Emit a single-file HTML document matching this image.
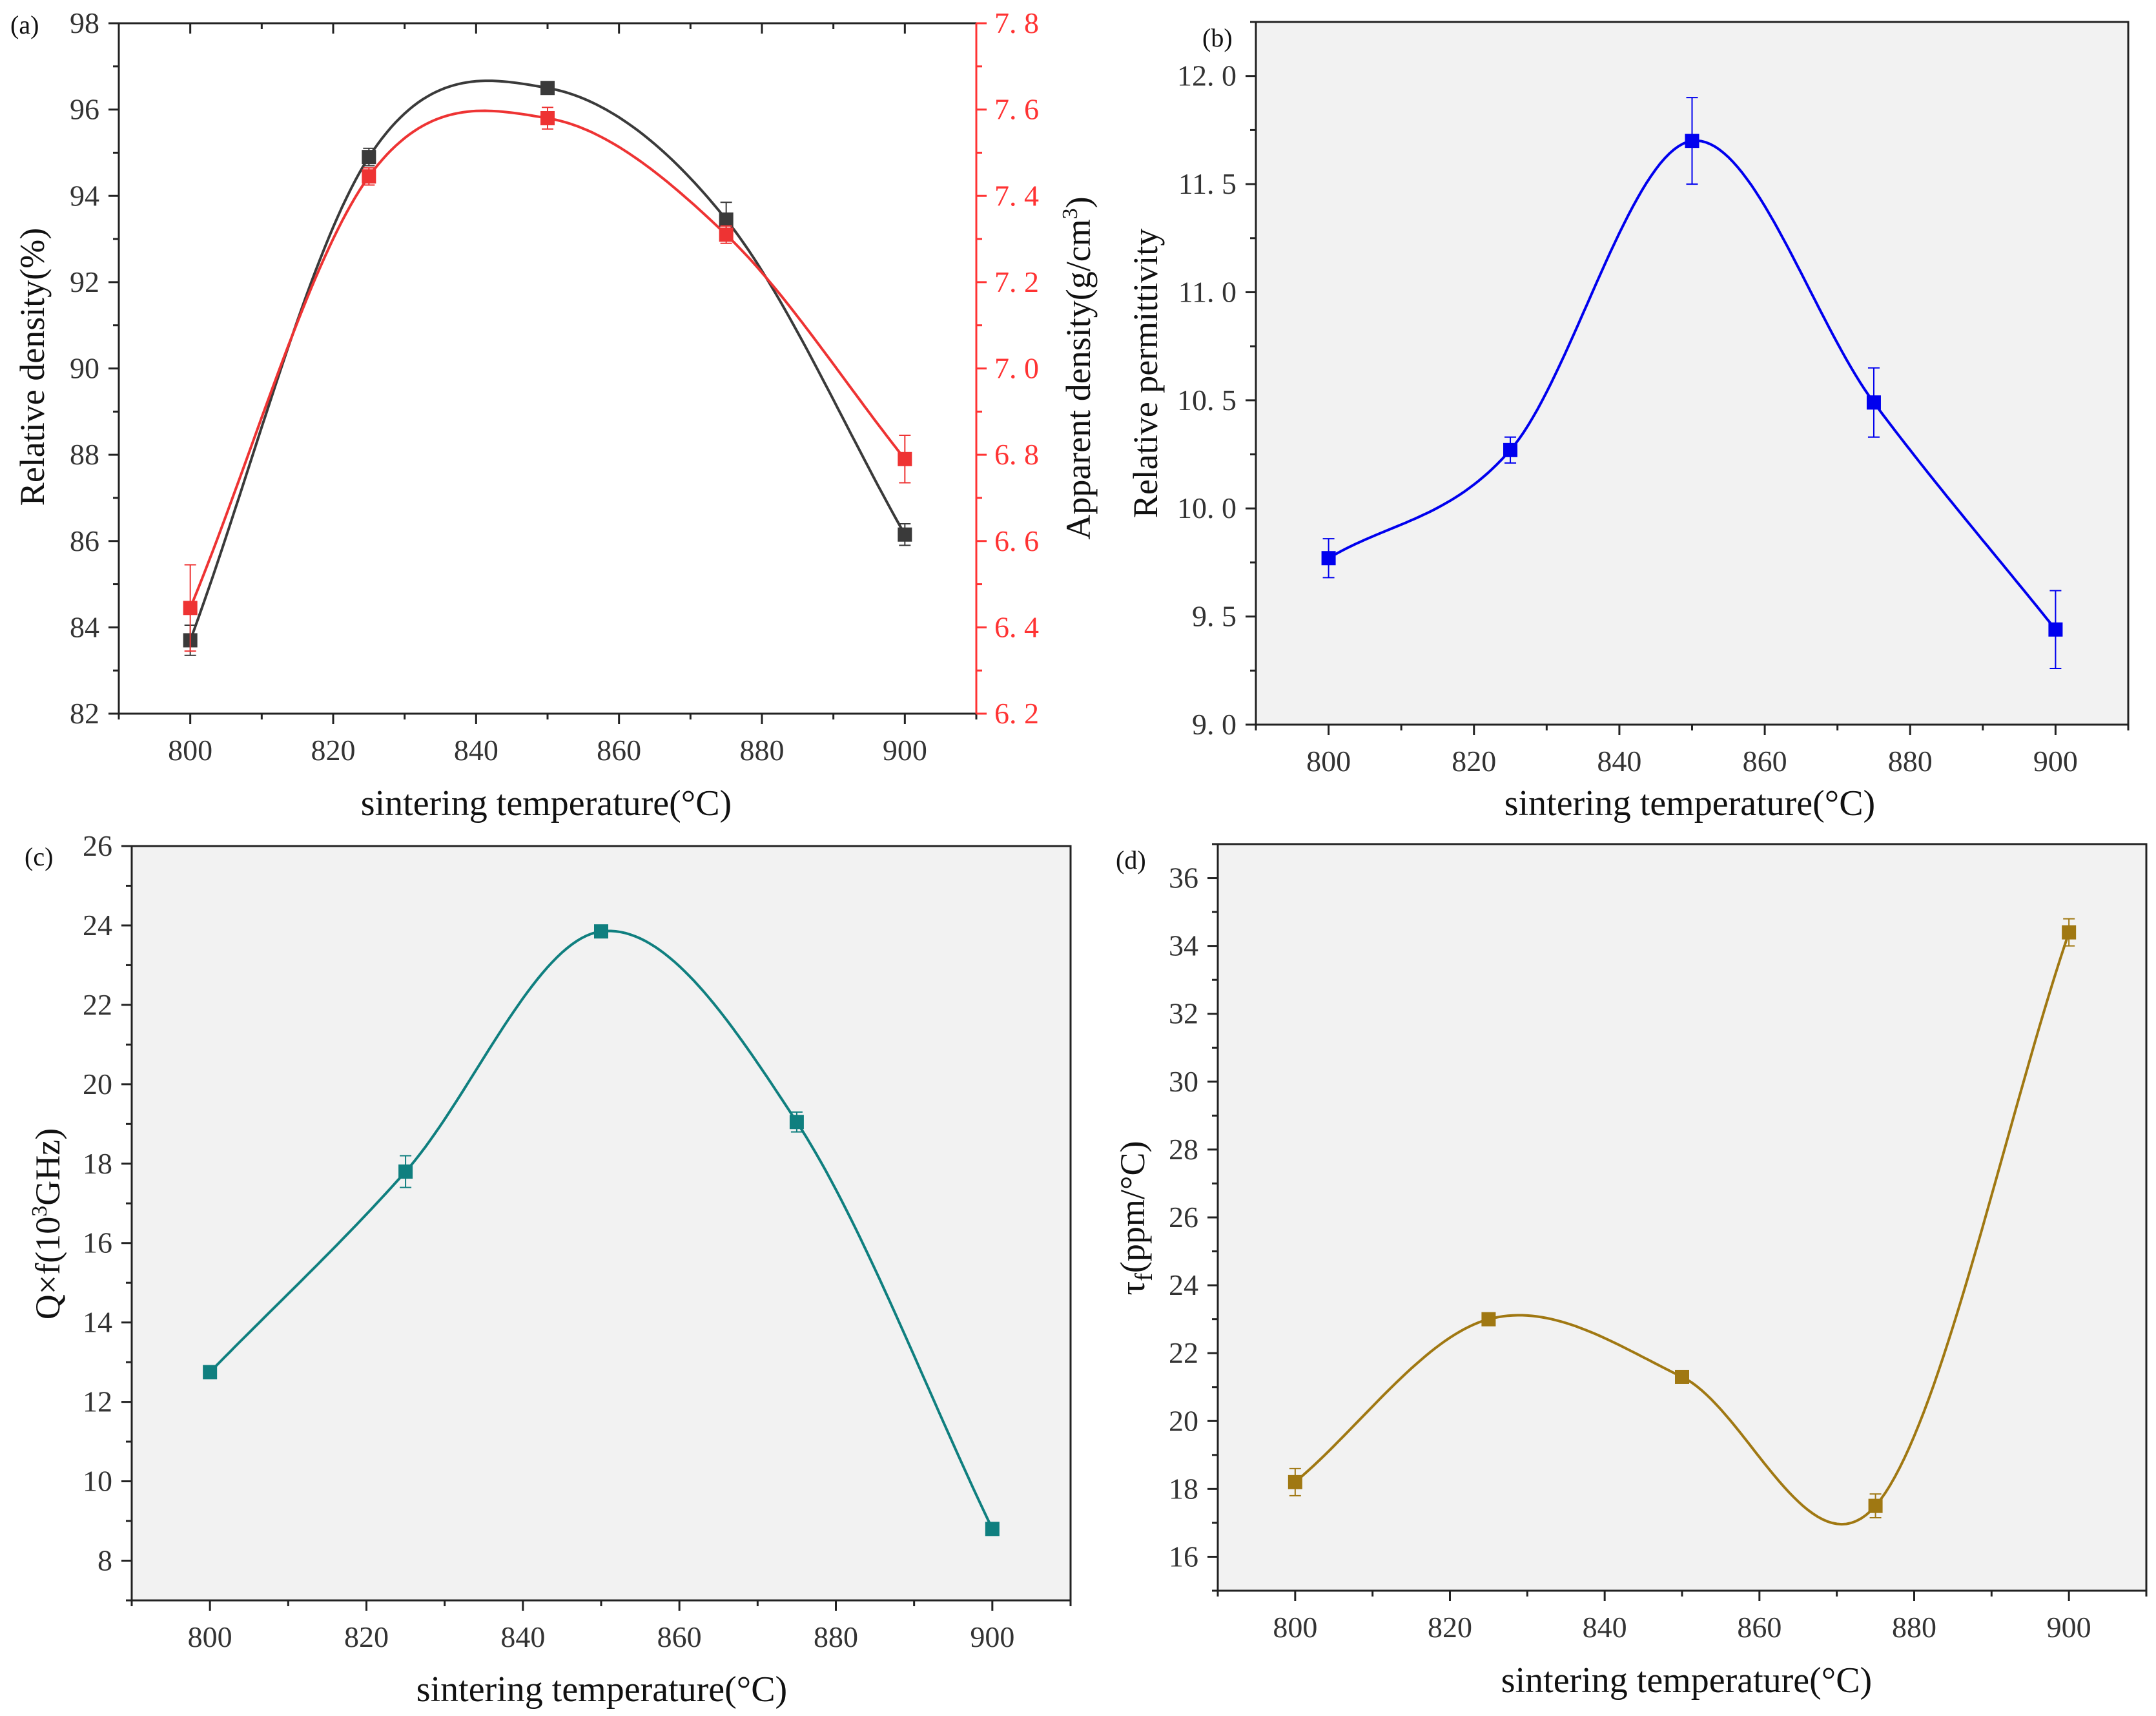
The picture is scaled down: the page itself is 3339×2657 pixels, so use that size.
<!DOCTYPE html>
<html><head><meta charset="utf-8"><style>
html,body{margin:0;padding:0;background:#fff}
svg{display:block}
</style></head>
<body>
<svg id="fig" width="3339" height="2657" viewBox="0 0 3339 2657" xmlns="http://www.w3.org/2000/svg" font-family="Liberation Serif, Noto Serif CJK SC, serif">
</svg>
<script>
const temps=[800,825,850,875,900];
const xTicks=[800,820,840,860,880,900];
const densityRel=[83.7,94.9,96.5,93.45,86.15];
const densityRelErr=[0.35,0.2,0.1,0.4,0.25];
const densityApp=[6.445,7.445,7.58,7.31,6.79];
const densityAppErr=[0.1,0.02,0.025,0.02,0.055];
const permittivity=[9.77,10.27,11.70,10.49,9.44];
const permittivityErr=[0.09,0.06,0.2,0.16,0.18];
const qf=[12.75,17.8,23.85,19.05,8.8];
const qfErr=[0.05,0.4,0.1,0.25,0.05];
const tauf=[18.2,23.0,21.3,17.5,34.4];
const taufErr=[0.4,0.1,0.15,0.35,0.4];
const ticksRel=[82,84,86,88,90,92,94,96,98];
const ticksApp=[6.2,6.4,6.6,6.8,7.0,7.2,7.4,7.6,7.8];
const ticksPerm=[9.0,9.5,10.0,10.5,11.0,11.5,12.0];
const ticksQf=[8,10,12,14,16,18,20,22,24,26];
const ticksTau=[16,18,20,22,24,26,28,30,32,34,36];

const NS='http://www.w3.org/2000/svg';
const svg=document.getElementById('fig');
function mk(tag,attrs,parent){const e=document.createElementNS(NS,tag);for(const k in attrs)e.setAttribute(k,attrs[k]);(parent||svg).appendChild(e);return e;}
function spline(xs,ys){const n=xs.length,m=[];
for(let i=0;i<n;i++){if(i===0)m.push((ys[1]-ys[0])/(xs[1]-xs[0]));else if(i===n-1)m.push((ys[n-1]-ys[n-2])/(xs[n-1]-xs[n-2]));else m.push((ys[i+1]-ys[i-1])/(xs[i+1]-xs[i-1]));}
const pts=[];for(let i=0;i<n-1;i++){const h=xs[i+1]-xs[i];for(let k=0;k<=40;k++){const t=k/40,t2=t*t,t3=t2*t;
const y=(2*t3-3*t2+1)*ys[i]+(t3-2*t2+t)*h*m[i]+(-2*t3+3*t2)*ys[i+1]+(t3-t2)*h*m[i+1];pts.push([xs[i]+t*h,y]);}}return pts;}

function panel(p){
  const g=mk('g',{});
  
  
  const X=v=>p.l+(v-790)/(120)*(p.r-p.l);
  const Y=v=>p.b-(v-p.y0)/(p.y1-p.y0)*(p.b-p.t);
  const bg=mk('rect',{x:p.l,y:p.t,width:p.r-p.l,height:p.b-p.t,fill:p.bg,stroke:'#222','stroke-width':3},g);
  
  
  for(let v=790;v<=910;v+=10){const major=(v%20===0);
    mk('line',{x1:X(v),x2:X(v),y1:p.b,y2:p.b+(major?16:9),stroke:'#222','stroke-width':3},g);
    if(p.topTicks)mk('line',{x1:X(v),x2:X(v),y1:p.t,y2:p.t+(major?16:9),stroke:'#222','stroke-width':3},g);}
  xTicks.forEach(v=>{const t=mk('text',{x:X(v),y:p.b+72,'font-size':46,'text-anchor':'middle',fill:'#333'},g);t.textContent=v;
    
    });
  const yt=p.yTicks,step=(yt[1]-yt[0])/p.minorDiv;
  for(let k=-20;k<=200;k++){const v=yt[0]+k*step;if(v<p.y0-1e-9||v>p.y1+1e-9)continue;
    const major=(Math.abs(k%p.minorDiv)===0);
    mk('line',{x1:p.l,x2:p.l-(major?16:9),y1:Y(v),y2:Y(v),stroke:'#222','stroke-width':3},g);}
  yt.forEach(v=>{const t=mk('text',{x:p.l-30,y:Y(v)+15,'font-size':46,'text-anchor':'end',fill:'#333'},g);t.textContent=v.toFixed(p.dec).replace('.',p.dec?'. ':'.');
    
    });
  const xt=mk('text',{x:p.xtx,y:p.xty,'font-size':56,'text-anchor':'middle',fill:'#111'},g);xt.textContent='sintering temperature(°C)';
  
  
  const ytt=mk('text',{x:0,y:0,'font-size':54,'text-anchor':'middle',fill:'#111',transform:`translate(${p.ytx},${p.yty}) rotate(-90)`},g);ytt.innerHTML=p.ytitle;
  
  
  const lb=mk('text',{x:p.lx,y:p.ly,'font-size':40,fill:'#111'},g);lb.textContent=p.label;
  
  
  return {g,X,Y};
}
function series(ctx,vals,errs,color,name,Yf){
  const Y=Yf||ctx.Y,X=ctx.X,g=mk('g',{},ctx.g);
  
  
  const pts=spline(temps,vals);
  const path=mk('path',{d:'M'+pts.map(q=>X(q[0]).toFixed(1)+','+Y(q[1]).toFixed(1)).join('L'),fill:'none',stroke:color,'stroke-width':4},g);
  
  
  temps.forEach((t,i)=>{const x=X(t),y1=Y(vals[i]+errs[i]),y2=Y(vals[i]-errs[i]);
    mk('line',{x1:x,x2:x,y1:y1,y2:y2,stroke:color,'stroke-width':2},g);
    mk('line',{x1:x-9,x2:x+9,y1:y1,y2:y1,stroke:color,'stroke-width':2},g);
    mk('line',{x1:x-9,x2:x+9,y1:y2,y2:y2,stroke:color,'stroke-width':2},g);
    const m=mk('rect',{x:x-11,y:Y(vals[i])-11,width:22,height:22,fill:color},g);
    
    });
}
const A=panel({name:'panel-a',l:184,r:1512,t:36,b:1105,bg:'#fff',y0:82,y1:98,yTicks:ticksRel,minorDiv:2,dec:0,topTicks:true,
  xtx:846,xty:1262,ytx:68,yty:568,ytitle:'Relative density(%)',label:'(a)',lx:16,ly:52});
const YA=v=>1105-(v-6.2)/1.6*(1105-36);
for(let k=0;k<=16;k++){const v=6.2+k*0.1;const major=k%2===0;
  mk('line',{x1:1512,x2:1512+(major?16:9),y1:YA(v),y2:YA(v),stroke:'#f33','stroke-width':3},A.g);}
mk('line',{x1:1512,x2:1512,y1:36,y2:1105,stroke:'#f33','stroke-width':3},A.g);
ticksApp.forEach(v=>{const t=mk('text',{x:1540,y:YA(v)+15,'font-size':46,fill:'#f33'},A.g);t.textContent=v.toFixed(1).replace('.','. ');
  
  });
const rt=mk('text',{x:0,y:0,'font-size':54,'text-anchor':'middle',fill:'#111',transform:'translate(1688,570) rotate(-90)'},A.g);
rt.innerHTML='Apparent density(g/cm<tspan dy="-20" font-size="34">3</tspan><tspan dy="20">)</tspan>';


series(A,densityRel,densityRelErr,'#3a3a3a','relative-density-series');
series(A,densityApp,densityAppErr,'#ee3333','apparent-density-series',YA);
const B=panel({name:'panel-b',l:1945,r:3296,t:34,b:1122,bg:'#f2f2f2',y0:9.0,y1:12.25,yTicks:ticksPerm,minorDiv:2,dec:1,
  xtx:2617,xty:1262,ytx:1792,yty:578,ytitle:'Relative permittivity',label:'(b)',lx:1862,ly:72});
series(B,permittivity,permittivityErr,'#0000ee','permittivity-series');
const C=panel({name:'panel-c',l:204,r:1658,t:1310,b:2478,bg:'#f2f2f2',y0:7,y1:26,yTicks:ticksQf,minorDiv:2,dec:0,
  xtx:932,xty:2634,ytx:92,yty:1895,ytitle:'Q×f(10<tspan dy="-20" font-size="34">3</tspan><tspan dy="20">GHz)</tspan>',label:'(c)',lx:38,ly:1340});
series(C,qf,qfErr,'#0f7f7f','qf-series');
const D=panel({name:'panel-d',l:1886,r:3324,t:1307,b:2463,bg:'#f2f2f2',y0:15,y1:37,yTicks:ticksTau,minorDiv:2,dec:0,
  xtx:2612,xty:2620,ytx:1772,yty:1886,ytitle:'τ<tspan dy="12" font-size="38">f</tspan><tspan dy="-12">(ppm/°C)</tspan>',label:'(d)',lx:1728,ly:1345});
series(D,tauf,taufErr,'#a07812','tau-f-series');
</script>
</body></html>
